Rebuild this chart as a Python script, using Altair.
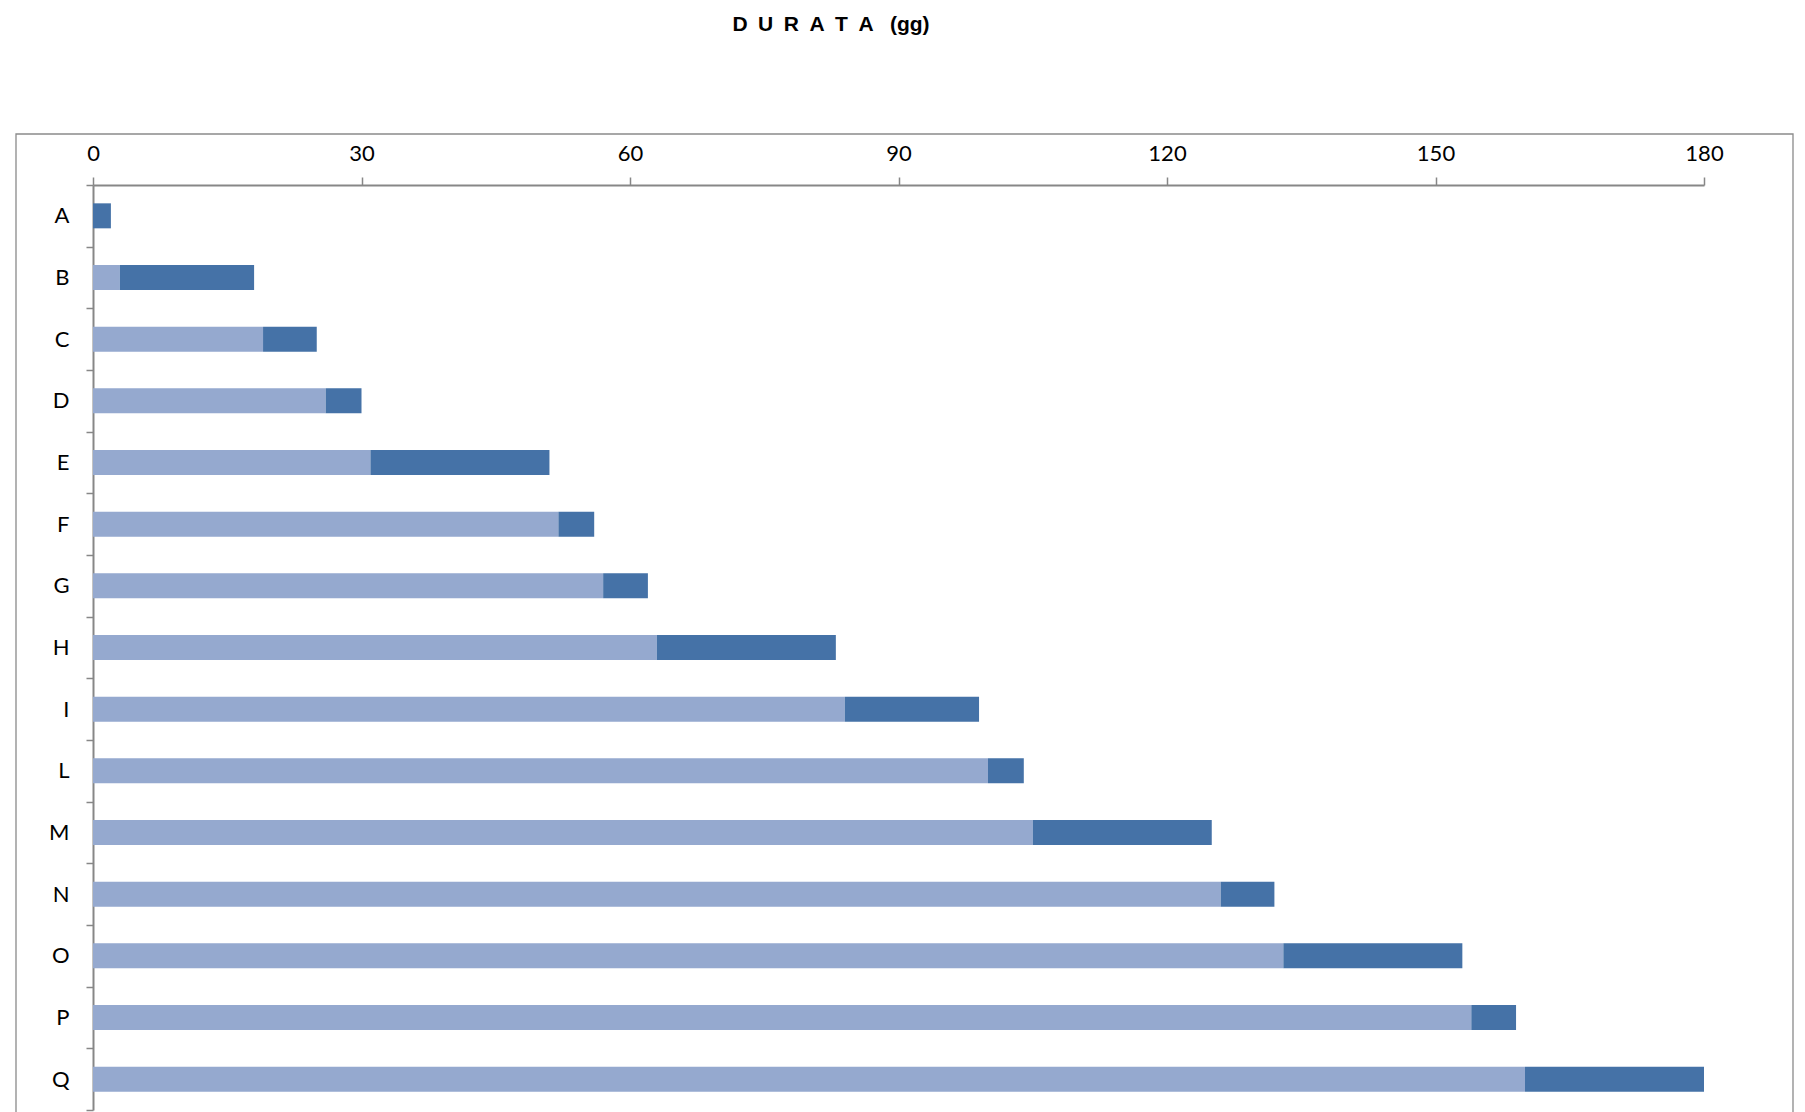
import altair as alt
import pandas as pd

categories = ["A", "B", "C", "D", "E", "F", "G", "H", "I", "L", "M", "N", "O", "P", "Q"]
start = [0, 3, 19, 26, 31, 52, 57, 63, 84, 100, 105, 126, 133, 154, 160]
durata = [2, 15, 6, 4, 20, 4, 5, 20, 15, 4, 20, 6, 20, 5, 20]
x_ticks = [0, 30, 60, 90, 120, 150, 180]
title_text = "D\u2002U\u2002R\u2002A\u2002T\u2002A\u2002\u00a0(gg)"

LIGHT = "#95A9CF"
DARK = "#4572A7"
GRAY = "#878787"

df = pd.DataFrame({"cat": categories, "start": start, "durata": durata})

W, H = 1611, 925
BAR = 25

x_scale = alt.Scale(domain=[0, 180], nice=False, zero=True)
y_scale = alt.Scale(domain=categories, paddingInner=0, paddingOuter=0)

x_axis = alt.Axis(
    orient="top", values=x_ticks, title=None, grid=False, labelFlush=False,
    domainColor=GRAY, domainWidth=2, tickColor=GRAY, tickWidth=1.5, tickSize=8,
    labelFont="Lato", labelFontSize=22, labelColor="black", labelPadding=12,
)
y_axis = alt.Axis(
    title=None, grid=False, tickBand="extent",
    domainColor=GRAY, domainWidth=2, tickColor=GRAY, tickWidth=1.5, tickSize=7,
    labelFont="Lato", labelFontSize=22, labelColor="black", labelPadding=17,
)

base = alt.Chart(df)

light = base.mark_bar(color=LIGHT, size=BAR).encode(
    y=alt.Y("cat:N", scale=y_scale, axis=y_axis, sort=categories),
    x=alt.X("zero:Q", scale=x_scale, axis=x_axis),
    x2="start:Q",
).transform_calculate(zero="0")

dark = base.mark_bar(color=DARK, size=BAR).encode(
    y=alt.Y("cat:N", scale=y_scale, sort=categories),
    x=alt.X("start:Q", scale=x_scale),
    x2="end:Q",
).transform_calculate(end="datum.start + datum.durata")

frame = alt.Chart(pd.DataFrame({"k": [0]})).mark_rect(
    fill=None, stroke="#8A8A8A", strokeWidth=1.3
).encode(
    x=alt.value(-77), x2=alt.value(1700), y=alt.value(-51), y2=alt.value(930)
)

anchor = alt.Chart(pd.DataFrame({"k": [0]})).mark_rect(opacity=0).encode(
    x=alt.value(-85), x2=alt.value(-84), y=alt.value(-177), y2=alt.value(-176)
)

title = alt.Chart(pd.DataFrame({"t": [title_text]})).mark_text(
    font="Liberation Sans", fontWeight="bold", fontSize=21, color="black",
    align="center", baseline="alphabetic"
).encode(
    text="t:N", x=alt.value(738), y=alt.value(-154)
)

chart = alt.layer(frame, anchor, light, dark, title).properties(
    width=W, height=H, padding=0
).configure_view(stroke=None)

chart.save("out.html", embed_options={"renderer": "svg", "actions": False})
